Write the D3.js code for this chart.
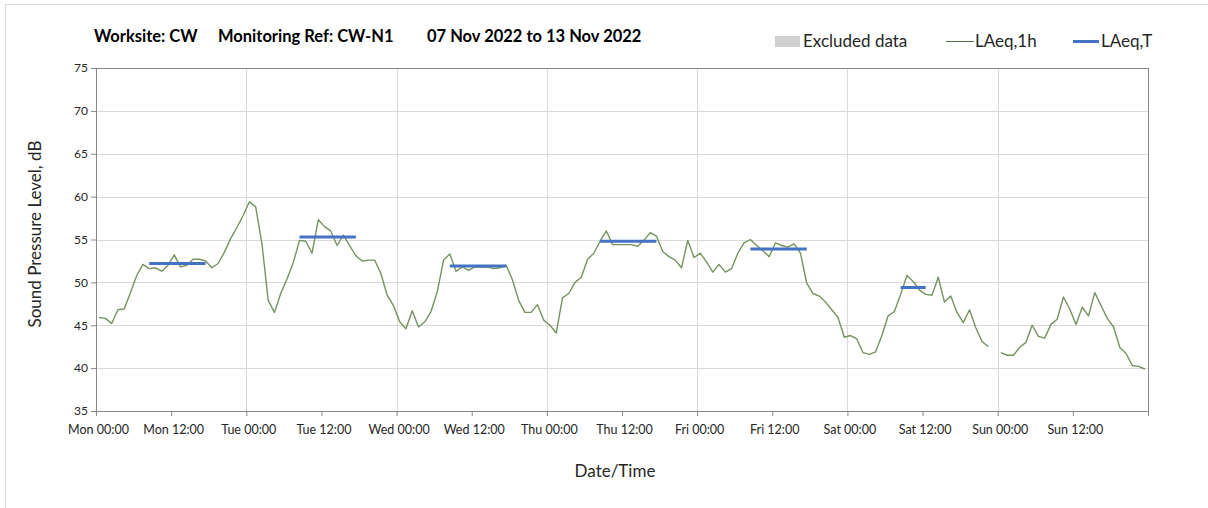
<!DOCTYPE html>
<html>
<head>
<meta charset="utf-8">
<script src="https://cdn.jsdelivr.net/npm/d3@7"></script>
<style>
  body { margin: 0; background: #fff; }
  svg text { font-family: Lato, "Open Sans", sans-serif; fill: #262626; }
</style>
</head>
<body>
<div id="chart"></div>
<script>
// hourly LAeq,1h values, Mon 07 Nov 2022 00:00 onwards (null = no data)
var laeq1h = [
  45.9, 45.8, 45.2, 46.8, 46.9, 48.8, 50.8, 52.1, 51.6, 51.7, 51.3, 52.0,
  53.2, 51.8, 52.0, 52.7, 52.7, 52.5, 51.7, 52.2, 53.5, 55.1, 56.4, 57.8,
  59.4, 58.8, 54.5, 47.9, 46.5, 48.7, 50.4, 52.3, 54.9, 54.8, 53.4, 57.3,
  56.5, 56.0, 54.3, 55.5, 54.3, 53.1, 52.5, 52.6, 52.6, 51.0, 48.5, 47.3,
  45.4, 44.6, 46.7, 44.8, 45.4, 46.6, 48.9, 52.6, 53.3, 51.3, 51.8, 51.4,
  51.8, 51.8, 51.8, 51.6, 51.7, 52.0, 50.3, 47.9, 46.5, 46.5, 47.4, 45.6,
  45.0, 44.1, 48.2, 48.7, 50.0, 50.6, 52.7, 53.4, 54.8, 56.0, 54.4, 54.4,
  54.4, 54.4, 54.2, 54.9, 55.8, 55.4, 53.6, 53.0, 52.6, 51.7, 54.9, 52.9,
  53.4, 52.4, 51.2, 52.1, 51.2, 51.6, 53.4, 54.6, 55.0, 54.3, 53.7, 53.0,
  54.6, 54.3, 54.1, 54.5, 53.4, 49.9, 48.7, 48.4, 47.7, 46.8, 45.9, 43.6,
  43.8, 43.4, 41.8, 41.6, 41.9, 43.8, 46.1, 46.6, 48.6, 50.8, 50.1, 49.1,
  48.6, 48.5, 50.6, 47.7, 48.4, 46.5, 45.3, 46.8, 44.7, 43.1, 42.5, null,
  41.8, 41.5, 41.5, 42.4, 43.0, 45.0, 43.7, 43.5, 45.1, 45.7, 48.3, 46.9,
  45.1, 47.1, 46.1, 48.8, 47.3, 45.8, 44.8, 42.4, 41.7, 40.3, 40.2, 39.9
];

// LAeq,T periods (hour index from start to end) and levels
var periodStart = [8, 32, 56, 80, 104, 128];
var periodEnd   = [17, 41, 65, 89, 113, 132];
var laeqT       = [52.2, 55.3, 51.9, 54.8, 53.9, 49.4];

var yTicks = [35, 40, 45, 50, 55, 60, 65, 70, 75];
var legendLabels = ["Excluded data", "LAeq,1h", "LAeq,T"];

var startTime = new Date(Date.UTC(2022, 10, 7, 0, 0));
var endTime = new Date(Date.UTC(2022, 10, 14, 0, 0));

var W = 1208, H = 508;
var margin = {top: 68, right: 60, bottom: 97, left: 96};
var w = W - margin.left - margin.right,
    h = H - margin.top - margin.bottom;

var svg = d3.select("#chart").append("svg")
    .attr("width", W)
    .attr("height", H);

// outer chart frame
svg.append("rect")
  .attr("x", 5.5).attr("y", 4.5)
  .attr("width", W + 10).attr("height", H + 10)
  .attr("fill", "none")
  .attr("stroke", "#d9d9d9");

var g = svg.append("g")
  .attr("transform", "translate(" + margin.left + "," + margin.top + ")");

var x = d3.scaleUtc().domain([startTime, endTime]).range([0, w]);
var y = d3.scaleLinear().domain([35, 75]).range([h, 0]);

function hourTime(hh) {
  return new Date(startTime.getTime() + hh * 3600000);
}

// gridlines
g.append("g").selectAll("line.hgrid")
  .data(yTicks.slice(1))
  .enter().append("line")
  .attr("x1", 0).attr("x2", w)
  .attr("y1", function(d) { return Math.round(y(d)) + 0.5; })
  .attr("y2", function(d) { return Math.round(y(d)) + 0.5; })
  .attr("stroke", "#d9d9d9");

g.append("g").selectAll("line.vgrid")
  .data(d3.utcDay.range(d3.utcDay.offset(startTime, 1), d3.utcDay.offset(endTime, 1)))
  .enter().append("line")
  .attr("x1", function(d) { return Math.round(x(d)) + 0.5; })
  .attr("x2", function(d) { return Math.round(x(d)) + 0.5; })
  .attr("y1", 0).attr("y2", h)
  .attr("stroke", function(d) { return +d === +endTime ? "#898989" : "#d9d9d9"; });

// top border
g.append("line")
  .attr("x1", 0).attr("x2", w)
  .attr("y1", 0.5).attr("y2", 0.5)
  .attr("stroke", "#898989");

// axes
var xAxis = g.append("g")
  .attr("transform", "translate(0," + h + ")")
  .call(d3.axisBottom(x)
    .ticks(d3.utcHour.every(12))
    .tickFormat(d3.utcFormat("%a %H:%M"))
    .tickSizeInner(5).tickSizeOuter(5));
xAxis.select(".domain").attr("stroke", "#898989");
xAxis.selectAll(".tick line").attr("stroke", "#898989");
xAxis.selectAll(".tick text")
  .attr("font-size", "12.5px")
  .attr("y", 11)
  .attr("x", 2)
  .attr("dy", "0.95em")
  .attr("fill", "#262626");
xAxis.selectAll(".tick")
  .filter(function(d) { return +d === +endTime; })
  .select("text").remove();

var yAxis = g.append("g")
  .call(d3.axisLeft(y).tickValues(yTicks).tickSizeInner(5).tickSizeOuter(0));
yAxis.select(".domain").attr("stroke", "#898989");
yAxis.selectAll(".tick line").attr("stroke", "#898989");
yAxis.selectAll(".tick text")
  .attr("font-size", "12px")
  .attr("x", -8)
  .attr("fill", "#262626");
svg.selectAll(".tick text").style("font-family", "Lato, sans-serif");

// LAeq,1h line
var line = d3.line()
  .defined(function(d) { return d != null; })
  .x(function(d, i) { return x(hourTime(i + 0.5)); })
  .y(function(d) { return y(d); });

g.append("path")
  .datum(laeq1h)
  .attr("fill", "none")
  .attr("stroke", "#75935f")
  .attr("stroke-width", 1.4)
  .attr("stroke-linejoin", "round")
  .attr("d", line);

// LAeq,T segments
g.selectAll("line.laeqT")
  .data(laeqT)
  .enter().append("line")
  .attr("x1", function(d, i) { return x(hourTime(periodStart[i] + 0.5)); })
  .attr("x2", function(d, i) { return x(hourTime(periodEnd[i] + 0.5)); })
  .attr("y1", function(d) { return y(d); })
  .attr("y2", function(d) { return y(d); })
  .attr("stroke", "#4472c4")
  .attr("stroke-width", 3);

// axis titles
svg.append("text")
  .attr("x", 615)
  .attr("y", 477)
  .attr("text-anchor", "middle")
  .attr("font-size", "17px")
  .text("Date/Time");

svg.append("text")
  .attr("transform", "translate(41,234) rotate(-90)")
  .attr("text-anchor", "middle")
  .attr("font-size", "17px")
  .text("Sound Pressure Level, dB");

// title
var titleParts = ["Worksite: CW", "Monitoring Ref: CW-N1", "07 Nov 2022 to 13 Nov 2022"];
var titleX = [94, 218, 427];
svg.selectAll("text.title")
  .data(titleParts)
  .enter().append("text")
  .attr("class", "title")
  .attr("x", function(d, i) { return titleX[i]; })
  .attr("y", 42)
  .attr("font-size", "16.5px")
  .attr("font-weight", "bold")
  .style("fill", "#000")
  .text(function(d) { return d; });

// legend
var lg = svg.append("g");
lg.append("rect")
  .attr("x", 775).attr("y", 36)
  .attr("width", 25).attr("height", 11)
  .attr("fill", "#d0d0d0");
lg.append("line")
  .attr("x1", 946).attr("x2", 974)
  .attr("y1", 41.5).attr("y2", 41.5)
  .attr("stroke", "#4d6b3a").attr("stroke-width", 1);
lg.append("line")
  .attr("x1", 1073).attr("x2", 1099)
  .attr("y1", 41.5).attr("y2", 41.5)
  .attr("stroke", "#4472c4").attr("stroke-width", 3);
var legendX = [803, 975, 1101];
lg.selectAll("text")
  .data(legendLabels)
  .enter().append("text")
  .attr("x", function(d, i) { return legendX[i]; })
  .attr("y", 47)
  .attr("font-size", "17px")
  .text(function(d) { return d; });
</script>
</body>
</html>
